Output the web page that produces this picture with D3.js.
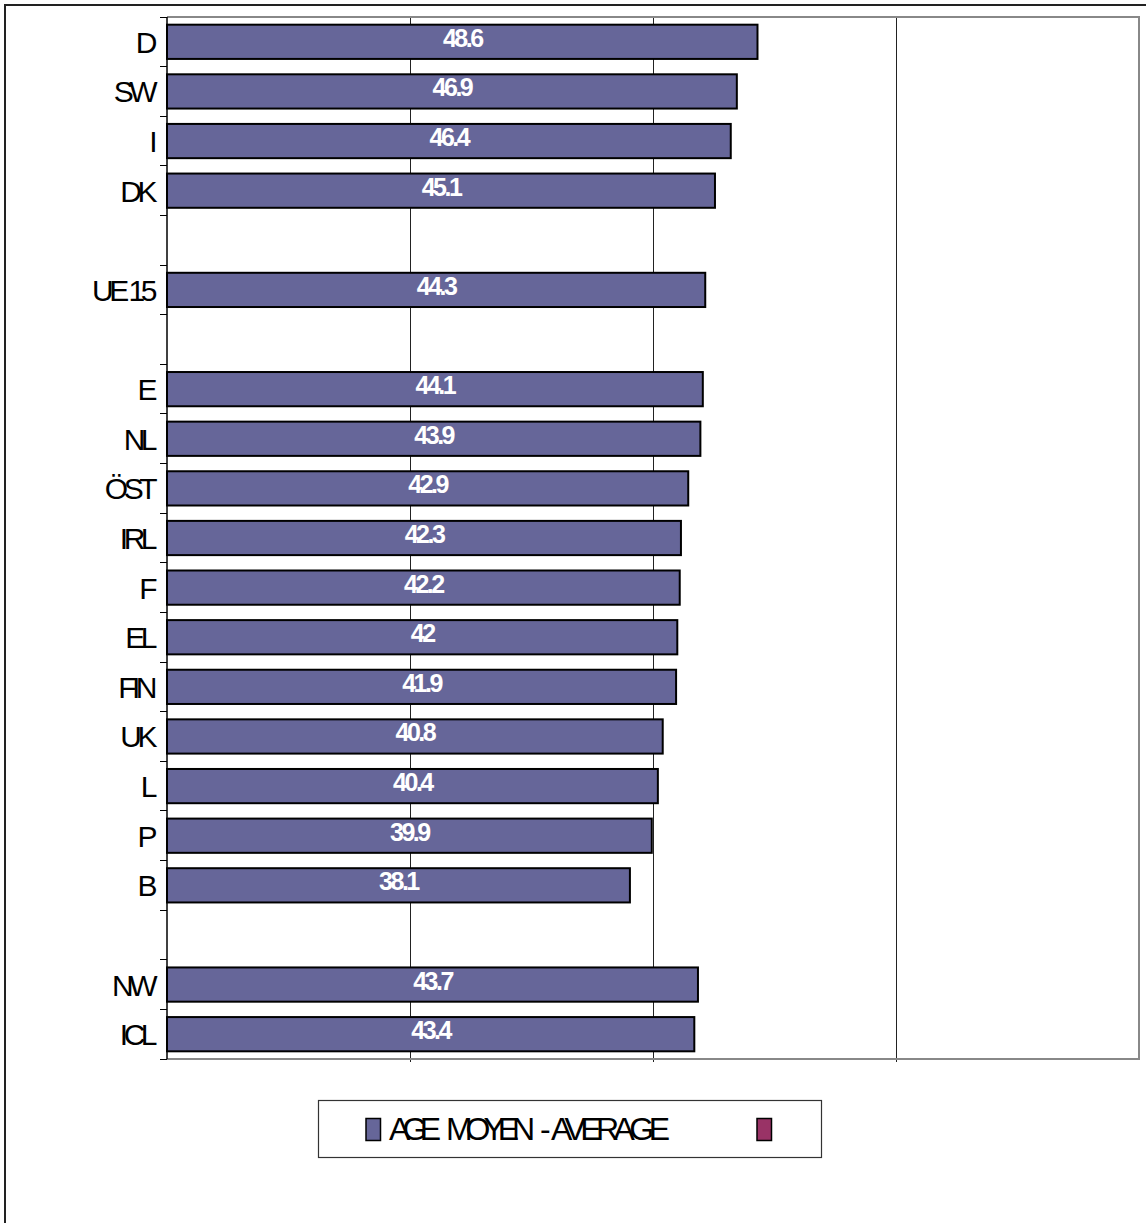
<!DOCTYPE html>
<html><head><meta charset="utf-8">
<script src="https://cdn.jsdelivr.net/npm/d3@7/dist/d3.min.js"></script>
<style>body{margin:0;background:#fff}svg{display:block}</style>
</head><body>
<script>
const categories = ["D","SW","I","DK","","UE 15","","E","NL","ÖST","IRL","F","EL","FIN","UK","L","P","B","","NW","ICL"];
const values = [48.6,46.9,46.4,45.1,null,44.3,null,44.1,43.9,42.9,42.3,42.2,42,41.9,40.8,40.4,39.9,38.1,null,43.7,43.4];
const valueLabels = ["48.6","46.9","46.4","45.1","","44.3","","44.1","43.9","42.9","42.3","42.2","42","41.9","40.8","40.4","39.9","38.1","","43.7","43.4"];
const xTicks = [0,20,40,60,80];
const legendLabels = ["AGE MOYEN - AVERAGE",""];
const legendColors = ["#666699","#993366"];

const W=1146,H=1223;
const svg=d3.select("body").append("svg").attr("width",W).attr("height",H);
const L=167,R=1139,T=17,B=1059;
const keys=categories.map((c,i)=>i);
const x=d3.scaleLinear().domain([0,80]).range([L,R]);
const y=d3.scaleBand().domain(keys).range([T,B]).paddingInner(0.31).paddingOuter(0.155);

// outer border (extends past right and bottom edges)
svg.append("rect").attr("x",5).attr("y",5).attr("width",1200).attr("height",1240)
  .attr("fill","none").attr("stroke","#222").attr("stroke-width",2);

// gridlines
svg.append("g").attr("shape-rendering","crispEdges").selectAll("line").data(xTicks.filter(t=>t>0&&t<80)).join("line")
  .attr("x1",d=>x(d)).attr("x2",d=>x(d)).attr("y1",T).attr("y2",B+3)
  .attr("stroke","#222").attr("stroke-width",1);

// plot border (top/right/bottom)
svg.append("path").attr("d",`M${L},${T}H${R}V${B}H${L}`).attr("fill","none")
  .attr("stroke","#888").attr("stroke-width",2);

// bars
const bi=values.map((v,i)=>({v,i,c:categories[i],lab:valueLabels[i]})).filter(d=>d.v!=null);
svg.append("g").selectAll("rect").data(bi).join("rect")
  .attr("x",x(0)).attr("y",d=>y(d.i)).attr("width",d=>x(d.v)-x(0)).attr("height",y.bandwidth())
  .attr("fill","#666699").attr("stroke","#000").attr("stroke-width",2);

// value labels
svg.append("g").selectAll("text").data(bi).join("text")
  .attr("x",d=>(x(0)+x(d.v))/2).attr("y",d=>y(d.i)+y.bandwidth()/2+5)
  .attr("text-anchor","middle").attr("fill","#fff")
  .attr("font-family","Liberation Sans, Arial, sans-serif").attr("font-weight","bold")
  .attr("font-size",25).attr("letter-spacing",-2.5).text(d=>d.lab);

// left axis line & ticks
svg.append("line").attr("x1",L).attr("x2",L).attr("y1",T).attr("y2",B).attr("stroke","#000").attr("stroke-width",1.5);
const bounds=keys.map(k=>y(k)-y.step()*y.paddingInner()/2).concat([B]);
bounds[0]=T;
svg.append("g").attr("shape-rendering","crispEdges").selectAll("line").data(bounds).join("line")
  .attr("x1",L-7).attr("x2",L).attr("y1",d=>d).attr("y2",d=>d).attr("stroke","#000").attr("stroke-width",1);

// category labels
svg.append("g").selectAll("text").data(categories.map((c,i)=>({c,i})).filter(d=>d.c)).join("text")
  .attr("x",L-14).attr("y",d=>y(d.i)+y.bandwidth()/2+11)
  .attr("text-anchor","end").attr("fill","#000")
  .attr("font-family","Liberation Sans, Arial, sans-serif")
  .attr("font-size",30).attr("letter-spacing",-4.5).text(d=>d.c);

// legend
svg.append("rect").attr("x",318.5).attr("y",1100.5).attr("width",503).attr("height",57)
  .attr("fill","#fff").attr("stroke","#333").attr("stroke-width",1.2);
const lx=[366,757];
svg.append("g").selectAll("rect").data(legendColors).join("rect")
  .attr("x",(d,i)=>lx[i]).attr("y",1118.5).attr("width",14.5).attr("height",22)
  .attr("fill",d=>d).attr("stroke","#000").attr("stroke-width",1.5);
const words=legendLabels[0].split(" ");
const wpos=[[389,52],[446,89],[540,9],[551,119]];
svg.append("g").selectAll("text").data(words).join("text")
  .attr("x",(d,i)=>wpos[i][0]).attr("y",1140)
  .attr("font-family","Liberation Sans, Arial, sans-serif").attr("font-size",32)
  .attr("textLength",(d,i)=>wpos[i][1]).attr("lengthAdjust","spacing").text(d=>d);
</script>
</body></html>
